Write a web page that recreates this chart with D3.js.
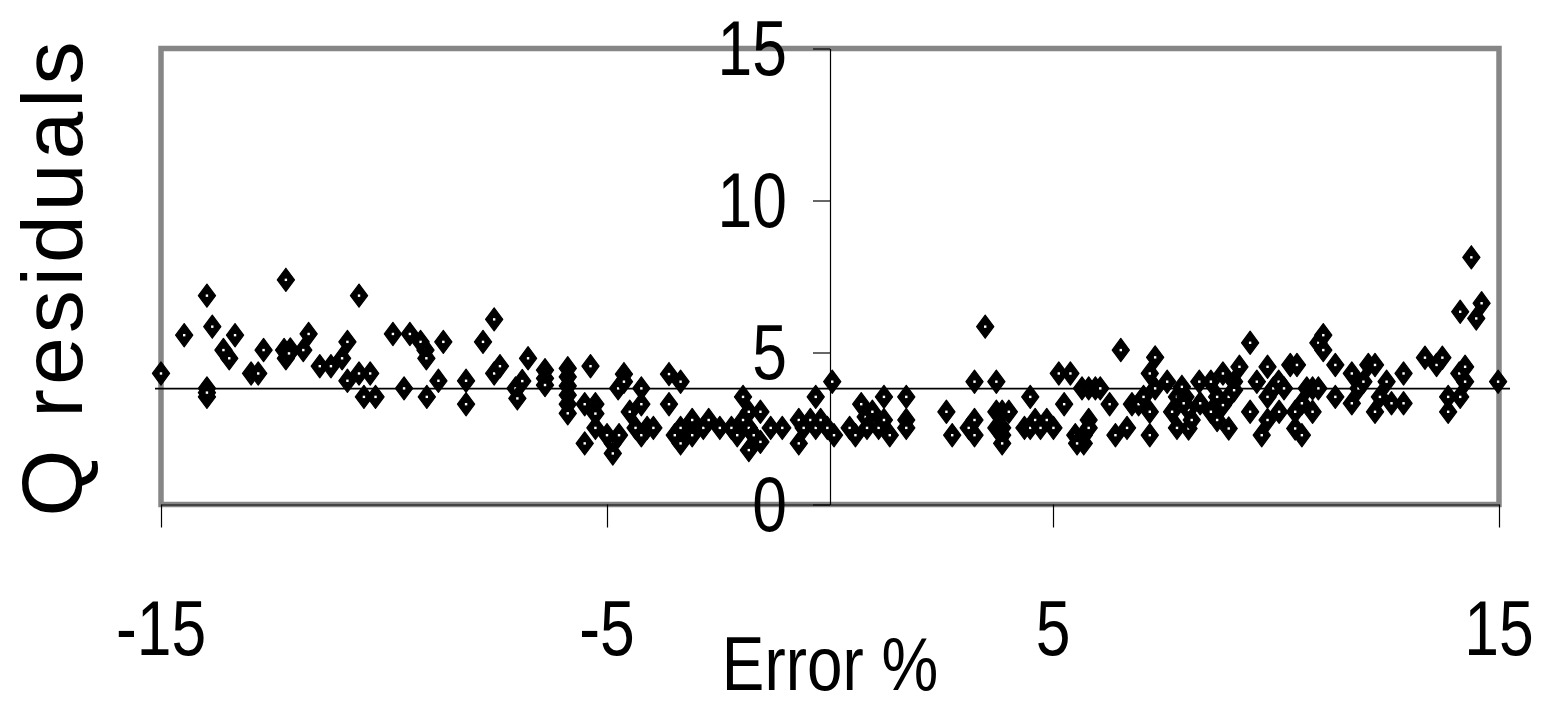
<!DOCTYPE html>
<html><head><meta charset="utf-8">
<script src="https://cdn.jsdelivr.net/npm/d3@7"></script>
<style>html,body{margin:0;padding:0;background:#fff;}svg{display:block;}</style>
</head><body>
<script>
const errorPct = [-15.0,-14.48,-13.97,-13.85,-13.97,-13.97,-13.97,-13.6,-13.47,-13.34,-12.98,-12.82,-12.70,-12.2,-12.24,-12.1,-12.2,-12.13,-11.81,-11.69,-11.44,-11.19,-10.94,-10.82,-10.82,-10.56,-10.56,-10.45,-10.31,-10.19,-9.80,-9.55,-9.42,-9.18,-9.07,-9.05,-9.04,-8.78,-8.67,-8.16,-8.16,-7.78,-7.53,-7.53,-7.40,-7.05,-7.01,-6.9,-6.77,-6.39,-6.39,-6.39,-5.88,-5.88,-5.88,-5.88,-5.88,-5.88,-5.5,-5.5,-5.37,-5.26,-5.26,-5.26,-5.0,-4.87,-4.87,-4.73,-4.62,-4.75,-4.62,-4.49,-4.36,-4.23,-4.23,-4.23,-4.1,-3.96,-3.61,-3.61,-3.35,-3.48,-3.35,-3.35,-3.09,-3.09,-2.84,-2.72,-2.47,-2.21,-2.08,-1.95,-1.95,-1.82,-1.82,-1.71,-1.82,-1.56,-1.56,-1.33,-1.07,-0.70,-0.70,-0.59,-0.44,-0.32,-0.32,-0.21,-0.06,0.05,0.09,
0.44,0.57,0.70,0.80,0.83,0.95,1.09,1.21,1.21,1.34,1.71,1.71,1.71,2.61,2.74,3.11,3.24,3.24,3.24,3.48,3.73,3.73,3.86,4.01,3.73,3.86,3.86,3.86,4.49,4.36,4.49,4.60,4.72,5.01,4.86,5.13,5.39,5.25,5.50,5.69,5.80,5.80,5.69,5.54,5.65,5.80,5.95,6.06,6.27,6.52,6.40,6.66,6.77,6.92,7.03,7.17,7.17,7.29,7.29,7.17,7.56,7.67,7.78,7.78,7.89,7.97,8.04,8.04,8.11,7.93,8.28,8.30,8.54,8.54,8.68,8.68,8.81,8.81,8.94,8.94,9.06,9.06,9.18,9.42,9.42,9.57,9.81,9.81,9.81,9.68,9.94,10.06,10.07,10.18,10.32,10.47,10.43,10.43,10.58,10.58,10.69,10.82,10.95,10.82,10.95,11.06,11.06,11.33,11.33,11.70,11.70,11.85,11.96,12.07,12.22,12.22,12.33,12.48,12.59,12.86,12.86,13.34,13.60,13.73,13.86,13.86,14.13,14.13,14.11,14.24,14.24,14.38,14.49,14.61,14.98];
const qResiduals = [4.31,5.57,6.87,5.85,3.82,3.54,3.68,5.08,4.81,5.57,4.31,4.31,5.08,7.39,5.08,5.1,4.81,4.97,5.08,5.61,4.55,4.55,4.81,5.35,4.07,6.87,4.31,3.54,4.31,3.54,5.61,3.82,5.61,5.35,5.08,4.81,3.54,4.07,5.35,4.07,3.30,5.35,6.09,4.31,4.55,3.82,3.49,4.06,4.81,4.42,4.15,3.93,4.48,4.2,3.9,3.6,3.3,3.0,3.30,2.01,4.55,3.30,2.99,2.52,2.28,2.01,1.68,2.28,4.29,3.82,4.04,3.05,2.52,3.82,3.30,2.28,2.52,2.52,4.29,3.30,4.04,2.28,2.52,2.01,2.78,2.28,2.52,2.78,2.52,2.52,2.28,3.54,2.78,3.05,2.52,2.28,1.79,3.05,2.06,2.52,2.52,2.78,2.01,2.52,2.78,3.54,2.52,2.78,2.52,4.04,2.28,
2.52,2.28,3.30,2.88,2.52,3.05,2.52,3.54,2.78,2.28,3.54,2.78,2.52,3.05,2.28,2.52,4.04,2.78,2.28,5.85,4.04,3.05,3.05,3.05,2.52,2.52,2.28,2.01,3.54,2.52,2.52,2.78,2.52,2.52,2.78,4.31,4.31,3.30,2.28,2.28,2.78,2.52,2.01,2.01,3.82,3.82,3.82,3.82,3.30,5.08,2.28,2.52,3.30,3.30,3.54,3.05,2.28,3.82,4.84,4.31,4.04,3.05,2.52,3.54,3.87,3.54,3.11,2.50,2.78,3.33,4.04,3.33,4.04,3.05,3.54,2.78,4.31,3.27,3.54,2.50,4.04,3.76,4.53,5.32,3.05,4.04,4.53,3.54,2.78,2.28,3.82,4.04,3.05,3.82,4.59,4.59,3.05,2.50,2.28,3.33,3.82,3.82,3.82,3.05,5.32,5.57,5.08,4.59,3.54,4.31,3.33,3.82,4.04,4.59,4.59,3.05,3.54,4.04,3.33,3.33,4.31,4.83,4.59,4.83,3.54,3.05,3.54,6.34,4.31,4.53,4.04,8.13,6.12,6.62,4.04];
const xTicks = [-15, -5, 5, 15];
const yTicks = [0, 5, 10, 15];
const thresholdValue = [3.81];
const xTitle = "Error %";
const yTitle = "Q residuals";

const W = 1546, H = 706;
const svg = d3.select("body").append("svg").attr("width", W).attr("height", H);
const x = d3.scaleLinear().domain([-15, 15]).range([161, 1499]);
const y = d3.scaleLinear().domain([0, 15]).range([504.5, 48.5]);
const font = '"Liberation Sans",Arial,sans-serif';
const narrowScale = 0.8;

// plot area border
svg.append("rect").attr("x", x(-15)).attr("y", y(15))
  .attr("width", x(15) - x(-15)).attr("height", y(0) - y(15))
  .attr("fill", "none").attr("stroke", "#868686").attr("stroke-width", 5.5);

// x axis through y=0
const xAxis = d3.axisBottom(x).tickValues(xTicks).tickSize(23).tickSizeOuter(0).tickFormat("");
const gx = svg.append("g").attr("transform", `translate(0,${y(0)})`).call(xAxis);
gx.selectAll("path,line").attr("stroke", "#000").attr("stroke-width", 1.2);

// y axis through x=0
const yAxis = d3.axisLeft(y).tickValues(yTicks).tickSize(17).tickSizeOuter(0).tickFormat("");
const gy = svg.append("g").attr("transform", `translate(${x(0)},0)`).call(yAxis);
gy.selectAll("path,line").attr("stroke", "#000").attr("stroke-width", 1.2);

// tick labels (condensed look)
svg.append("g").selectAll("text").data(xTicks).join("text")
  .attr("transform", d => `translate(${x(d)},655) scale(${narrowScale},1)`)
  .attr("text-anchor", "middle")
  .style("font-family", font).style("font-size", "78px").attr("fill", "#000")
  .text(d => d);
svg.append("g").selectAll("text").data(yTicks).join("text")
  .attr("transform", d => `translate(787,${y(d)}) scale(${narrowScale},1)`)
  .attr("dy", "0.34em")
  .attr("text-anchor", "end")
  .style("font-family", font).style("font-size", "78px").attr("fill", "#000")
  .text(d => d);

// titles
svg.append("text").attr("transform", `translate(830,690) scale(0.84,1)`).attr("text-anchor", "middle")
  .style("font-family", font).style("font-size", "76px").text(xTitle);
svg.append("text").attr("transform", "translate(82,277) rotate(-90)").attr("text-anchor", "middle")
  .style("font-family", font).style("font-size", "86px").style("letter-spacing", "4px").text(yTitle);

// threshold line
svg.append("g").selectAll("line").data(thresholdValue).join("line")
  .attr("x1", x(-15) - 6).attr("x2", x(15) + 11)
  .attr("y1", d => y(d)).attr("y2", d => y(d))
  .attr("stroke", "#000").attr("stroke-width", 1.8);

// points: black diamond marker with small white centre
const pts = errorPct.map((e, i) => ({e, q: qResiduals[i]}));
const hw = 8.6, hh = 11.6;
const g = svg.append("g").selectAll("g").data(pts).join("g")
  .attr("transform", d => `translate(${x(d.e)},${y(d.q)})`);
g.append("path").attr("d", `M0,${-hh}L${hw},0L0,${hh}L${-hw},0Z`)
  .attr("fill", "#000").attr("stroke", "#000").attr("stroke-width", 1.2).attr("stroke-linejoin", "round");
g.append("rect").attr("x", -1.2).attr("y", -1.2).attr("width", 2.4).attr("height", 2.4).attr("fill", "#fff");
</script>
</body></html>
